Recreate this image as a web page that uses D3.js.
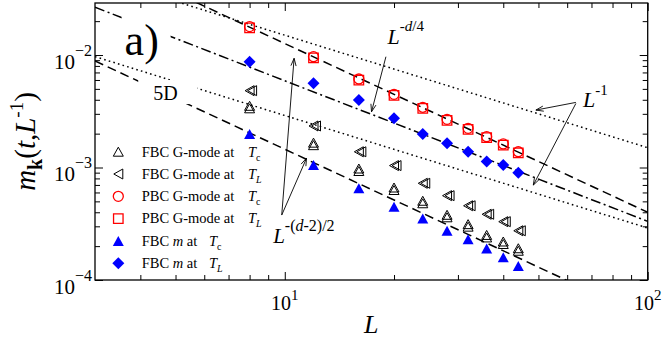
<!DOCTYPE html>
<html>
<head>
<meta charset="utf-8">
<script src="https://cdn.jsdelivr.net/npm/d3@7"></script>
<style>
  html, body { margin: 0; padding: 0; background: #fff; }
  svg { display: block; }
  svg text { font-family: "Liberation Serif", "DejaVu Serif", "Times New Roman", serif; }
</style>
</head>
<body>
<script>
// ---------------- DATA ----------------
const sizesL = [8, 12, 16, 20, 24, 28, 32, 36, 40, 44];
const pbcGmodeTc = [0.0179, 0.00966, 0.00612, 0.00447, 0.00343, 0.00268, 0.00223, 0.00188, 0.00162, 0.00138];
const pbcGmodeTL = [0.0174, 0.00945, 0.00598, 0.00437, 0.00335, 0.00262, 0.00218, 0.00184, 0.00158, 0.00135];
const fbcGmodeTc = [0.00336, 0.00158, 0.000931, 0.000631, 0.000481, 0.000361, 0.000298, 0.000239, 0.000209, 0.000182];
const fbcGmodeTL = [0.00482, 0.00234, 0.00138, 0.00104, 0.000724, 0.000562, 0.000457, 0.000384, 0.000330, 0.000274];
const fbcMTc = [0.00199, 0.00105, 0.000653, 0.000449, 0.000353, 0.000274, 0.000230, 0.000191, 0.000159, 0.000133];
const fbcMTL = [0.00871, 0.00560, 0.00398, 0.00274, 0.00199, 0.00164, 0.00138, 0.00113, 0.00105, 0.00090];

// guide power laws: endpoints [L, m]
const guideUpperDotted = [[3, 0.050], [100, 0.0015]];     // L^-1
const guideUpperDashed = [[3, 0.077], [100, 0.00040]];    // L^-(d-2)/2
const guideDashDot     = [[3, 0.0266], [100, 0.000332]];  // L^-d/4
const guideLowerDotted = [[3, 0.00967], [100, 0.00029]];  // L^-1
const guideLowerDashed = [[3, 0.00885], [100, 0.000046]]; // L^-(d-2)/2

const xMajorTicks = [10, 100];
const xMinorTicks = [4, 5, 6, 7, 8, 9, 20, 30, 40, 50, 60, 70, 80, 90];
const yMajorTicks = [1e-4, 1e-3, 1e-2];
const yMinorTicks = [2e-4, 3e-4, 4e-4, 5e-4, 6e-4, 7e-4, 8e-4, 9e-4,
                     2e-3, 3e-3, 4e-3, 5e-3, 6e-3, 7e-3, 8e-3, 9e-3, 2e-2];
const xTickLabels = ["1", "2"];       // exponents of 10
const yTickLabels = ["\u22124", "\u22123", "\u22122"];

const legendLabels = [
  { pre: "FBC G-mode at", mid: "", post: "", sub: "c", subItalic: false },
  { pre: "FBC G-mode at", mid: "", post: "", sub: "L", subItalic: true },
  { pre: "PBC G-mode at", mid: "", post: "", sub: "c", subItalic: false },
  { pre: "PBC G-mode at", mid: "", post: "", sub: "L", subItalic: true },
  { pre: "FBC ", mid: "m", post: " at", sub: "c", subItalic: false },
  { pre: "FBC ", mid: "m", post: " at", sub: "L", subItalic: true }
];

// annotation anchors in data coordinates [L, m]
const arrowsD4 = [[[19.0, 0.00966], [17.34, 0.00313]]];
const arrowsInv = [[[63.4, 0.00379], [49.2, 0.00324]], [[63.4, 0.00371], [48.4, 0.000698]]];
const arrowsD2 = [[[9.81, 0.000378], [10.61, 0.00935]], [[9.81, 0.000378], [11.48, 0.00121]]];

// ---------------- CHART ----------------
const W = 664, H = 339;
const FONT = '"Liberation Serif", "DejaVu Serif", "Times New Roman", serif';
const svg = d3.select("body").append("svg").attr("width", W).attr("height", H)
  .attr("font-family", FONT);

const x = d3.scaleLog().domain([3, 100]).range([95, 647.7]);
const y = d3.scaleLog().domain([1e-4, 2.9e-2]).range([280, 3]);
const [x0, x1] = x.range();
const [y0, y1] = [y.range()[1], y.range()[0]];

svg.append("defs").append("clipPath").attr("id", "plotclip")
  .append("rect").attr("x", x0).attr("y", y0).attr("width", x1 - x0).attr("height", y1 - y0);

// axes ticks (inward on all four sides)
function addAxis(axisGen, tr) {
  const g = svg.append("g").attr("transform", tr).call(axisGen);
  g.select(".domain").remove();
  g.selectAll("line").attr("stroke", "#000").attr("stroke-width", 1);
  g.selectAll("text").remove();
  return g;
}
const MAJ = 8, MIN = 5;
addAxis(d3.axisBottom(x).tickValues(xMajorTicks).tickSize(-MAJ), `translate(0,${y1})`);
addAxis(d3.axisBottom(x).tickValues(xMinorTicks).tickSize(-MIN), `translate(0,${y1})`);
addAxis(d3.axisTop(x).tickValues(xMajorTicks).tickSize(-MAJ), `translate(0,${y0})`);
addAxis(d3.axisTop(x).tickValues(xMinorTicks).tickSize(-MIN), `translate(0,${y0})`);
addAxis(d3.axisLeft(y).tickValues(yMajorTicks).tickSize(-MAJ), `translate(${x0},0)`);
addAxis(d3.axisLeft(y).tickValues(yMinorTicks).tickSize(-MIN), `translate(${x0},0)`);
addAxis(d3.axisRight(y).tickValues(yMajorTicks).tickSize(-MAJ), `translate(${x1},0)`);
addAxis(d3.axisRight(y).tickValues(yMinorTicks).tickSize(-MIN), `translate(${x1},0)`);

function txt(sel) { return sel.append("text").attr("font-family", FONT); }

// tick labels with superscripts
xMajorTicks.forEach((v, i) => {
  const t = txt(svg).attr("x", x(v)).attr("y", y1 + 30)
    .attr("text-anchor", "middle").attr("font-size", 20);
  t.append("tspan").text("10");
  t.append("tspan").attr("dy", -10).attr("font-size", 15).text(xTickLabels[i]);
});
yMajorTicks.forEach((v, i) => {
  const t = txt(svg).attr("x", x0 - 3).attr("y", y(v) + 13.5)
    .attr("text-anchor", "end").attr("font-size", 21);
  t.append("tspan").text("10");
  t.append("tspan").attr("dy", -13).attr("font-size", 16).text(yTickLabels[i]);
});

// axis titles
txt(svg).attr("x", (x0 + x1) / 2).attr("y", 333)
  .attr("text-anchor", "middle").attr("font-size", 26).attr("font-style", "italic").text("L");

const yt = txt(svg).attr("transform", `translate(35,${(y0 + y1) / 2}) rotate(-90)`)
  .attr("text-anchor", "middle").attr("font-size", 29);
yt.append("tspan").attr("font-style", "italic").text("m");
yt.append("tspan").attr("dy", 7).attr("font-size", 20).attr("font-weight", "bold").text("k");
yt.append("tspan").attr("dy", -7).text("(");
yt.append("tspan").attr("font-style", "italic").text("t");
yt.append("tspan").text(",");
yt.append("tspan").attr("font-style", "italic").text("L");
yt.append("tspan").attr("dy", -12).attr("font-size", 19).text("-1");
yt.append("tspan").attr("dy", 12).text(")");

// guide lines
const lineGen = d3.line().x(d => x(d[0])).y(d => y(d[1]));
const guides = svg.append("g").attr("clip-path", "url(#plotclip)");
const dashStyles = { dotted: "1.6,3.2", dashed: "9,5", dashdot: "10,3.5,2,3.5" };
[[guideUpperDotted, "dotted"], [guideUpperDashed, "dashed"], [guideDashDot, "dashdot"],
 [guideLowerDotted, "dotted"], [guideLowerDashed, "dashed"]].forEach(([pts, st]) => {
  guides.append("path").attr("d", lineGen(pts)).attr("fill", "none")
    .attr("stroke", "#000").attr("stroke-width", 1.5).attr("stroke-dasharray", dashStyles[st]);
});

// white label backgrounds + labels "a)" and "5D"
svg.append("rect").attr("x", x(3.62) - 3).attr("y", y(0.01) - 40).attr("width", 49).attr("height", 47).attr("fill", "#fff");
txt(svg).attr("x", x(3.62)).attr("y", y(0.01)).attr("font-size", 44).text("a)");
svg.append("rect").attr("x", x(4.34) - 15).attr("y", y(0.00398) - 20).attr("width", 59).attr("height", 24).attr("fill", "#fff");
txt(svg).attr("x", x(4.34)).attr("y", y(0.00398)).attr("font-size", 20).text("5D");

// markers
const mk = {
  upTri: (w, h) => `M0,${-h / 2}L${w / 2},${h / 2}L${-w / 2},${h / 2}Z`,
  leftTri: (w, h) => `M${-w / 2},0L${w / 2},${-h / 2}L${w / 2},${h / 2}Z`,
  square: s => `M${-s / 2},${-s / 2}h${s}v${s}h${-s}Z`,
  diamond: s => `M0,${-s}L${s},0L0,${s}L${-s},0Z`
};
function drawSeries(vals, path, style, offsets) {
  const g = svg.append("g");
  (offsets || [[0, 0]]).forEach(o => {
    g.selectAll(null).data(sizesL.map((L, i) => [L, vals[i]])).enter().append("path")
      .attr("transform", d => `translate(${x(d[0]) + o[0]},${y(d[1]) + o[1]})`)
      .attr("d", path).attr("fill", style.fill).attr("stroke", style.stroke)
      .attr("stroke-width", style.sw || 0);
  });
}
const stBlackOpen = { fill: "none", stroke: "#000", sw: 1 };
const stRedOpen = { fill: "none", stroke: "#ff0000", sw: 1.3 };
const stBlue = { fill: "#0000ff", stroke: "none" };

drawSeries(fbcGmodeTL, mk.leftTri(9, 10), stBlackOpen, [[0, 0], [2.5, 0]]);
drawSeries(fbcGmodeTc, mk.upTri(10, 9), stBlackOpen, [[0, 0], [0, -2.5]]);
drawSeries(fbcMTc, mk.upTri(11, 10), stBlue);
drawSeries(fbcMTL, mk.diamond(6), stBlue);
drawSeries(pbcGmodeTL, mk.square(9.5), stRedOpen);
svg.append("g").selectAll(null).data(sizesL.map((L, i) => [L, pbcGmodeTc[i]])).enter()
  .append("circle").attr("cx", d => x(d[0])).attr("cy", d => y(d[1])).attr("r", 5)
  .attr("fill", "none").attr("stroke", "#ff0000").attr("stroke-width", 1.3);

// legend
const legX = 118.3, legY0 = 151.7, legDY = 22.3, legTextX = 141.7;
const legMarkers = [
  g => g.append("path").attr("d", mk.upTri(10, 9)).attr("fill", "none").attr("stroke", "#000").attr("stroke-width", 1),
  g => g.append("path").attr("d", mk.leftTri(9, 10)).attr("fill", "none").attr("stroke", "#000").attr("stroke-width", 1),
  g => g.append("circle").attr("r", 5).attr("fill", "none").attr("stroke", "#ff0000").attr("stroke-width", 1.3),
  g => g.append("path").attr("d", mk.square(9.5)).attr("fill", "none").attr("stroke", "#ff0000").attr("stroke-width", 1.3),
  g => g.append("path").attr("d", mk.upTri(11, 10)).attr("fill", "#0000ff"),
  g => g.append("path").attr("d", mk.diamond(6)).attr("fill", "#0000ff")
];
legendLabels.forEach((lab, i) => {
  const cy = legY0 + i * legDY;
  legMarkers[i](svg.append("g").attr("transform", `translate(${legX},${cy})`));
  const t = txt(svg).attr("x", legTextX).attr("y", cy + 4.8).attr("font-size", 14.5);
  t.append("tspan").text(lab.pre);
  if (lab.mid) {
    t.append("tspan").attr("font-style", "italic").text(lab.mid);
    t.append("tspan").text(lab.post);
  }
  const tx = lab.mid ? 209 : 248;
  const t2 = txt(svg).attr("x", tx).attr("y", cy + 4.8).attr("font-size", 14.5);
  t2.append("tspan").attr("font-style", "italic").text("T");
  t2.append("tspan").attr("dy", 4).attr("font-size", 10).attr("font-style", lab.subItalic ? "italic" : "normal").text(lab.sub);
});

// arrows
function arrow(p0, p1) {
  const a = [x(p0[0]), y(p0[1])], b = [x(p1[0]), y(p1[1])];
  svg.append("line").attr("x1", a[0]).attr("y1", a[1]).attr("x2", b[0]).attr("y2", b[1])
    .attr("stroke", "#000").attr("stroke-width", 0.9);
  const ang = Math.atan2(b[1] - a[1], b[0] - a[0]);
  const len = 8, spread = 0.33;
  const pA = [b[0] - len * Math.cos(ang - spread), b[1] - len * Math.sin(ang - spread)];
  const pB = [b[0] - len * Math.cos(ang + spread), b[1] - len * Math.sin(ang + spread)];
  svg.append("path").attr("d", `M${pA}L${b}L${pB}`).attr("fill", "none")
    .attr("stroke", "#000").attr("stroke-width", 0.9);
}
[...arrowsD4, ...arrowsInv, ...arrowsD2].forEach(a => arrow(a[0], a[1]));

// annotation texts
function powLabel(L, m, base, sup, fs, sfs, dy) {
  const t = txt(svg).attr("x", x(L)).attr("y", y(m)).attr("font-size", fs);
  t.append("tspan").attr("font-style", "italic").text(base);
  const s = t.append("tspan").attr("dy", dy).attr("font-size", sfs);
  sup.forEach(p => s.append("tspan").attr("font-style", p[1] ? "italic" : "normal").text(p[0]));
}
powLabel(19.2, 0.01245, "L", [["-", 0], ["d", 1], ["/4", 0]], 22, 15, -13);
powLabel(66.3, 0.00343, "L", [["-1", 0]], 22, 15, -12);
powLabel(9.29, 0.000212, "L", [["-(", 0], ["d", 1], ["-2)/2", 0]], 21, 16, -12);

// frame
svg.append("rect").attr("x", x0).attr("y", y0).attr("width", x1 - x0).attr("height", y1 - y0)
  .attr("fill", "none").attr("stroke", "#000").attr("stroke-width", 1.3);
</script>
</body>
</html>
